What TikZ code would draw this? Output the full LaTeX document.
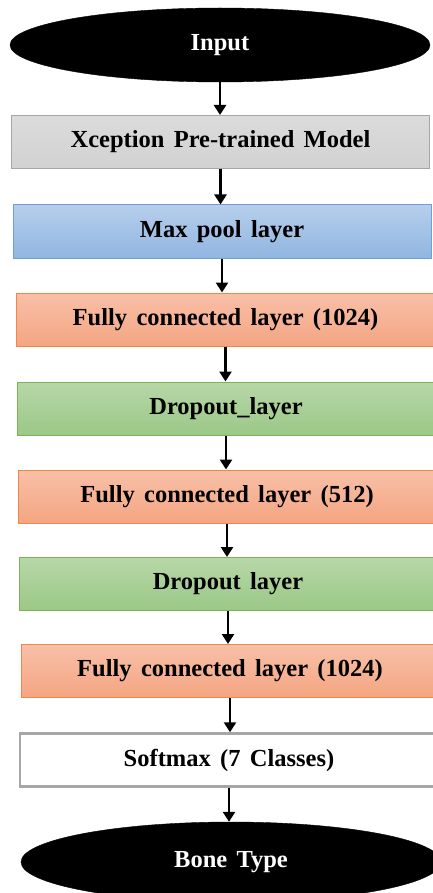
\documentclass[tikz,border=0pt]{standalone}
\usepackage{fontspec}
\setmainfont{Liberation Serif}
\usetikzlibrary{arrows.meta}
\usetikzlibrary{shapes.geometric}

\definecolor{greyfill}{RGB}{210,210,210}
\definecolor{greyline}{RGB}{166,166,166}
\definecolor{bluetop}{RGB}{182,206,235}
\definecolor{bluebot}{RGB}{145,182,225}
\definecolor{blueline}{RGB}{110,160,215}
\definecolor{orangetop}{RGB}{248,192,168}
\definecolor{orangebot}{RGB}{244,165,130}
\definecolor{orangeline}{RGB}{240,135,70}
\definecolor{greentop}{RGB}{183,215,168}
\definecolor{greenbot}{RGB}{155,200,135}
\definecolor{greenline}{RGB}{120,180,85}

% bold label font, a little wider word gaps
\newcommand{\layerfont}{\fontsize{24.5}{29}\selectfont\bfseries\spaceskip=0.38em plus 0.1em\relax}

\tikzset{
  layerbox/.style={rectangle, line width=1pt, minimum width=418pt, minimum height=53pt, inner sep=0pt,
    font=\layerfont},
  greybox/.style={layerbox, draw=greyline, top color=greyfill!80!white, bottom color=greyfill},
  bluebox/.style={layerbox, draw=blueline, top color=bluetop, bottom color=bluebot},
  orangebox/.style={layerbox, draw=orangeline, top color=orangetop, bottom color=orangebot},
  greenbox/.style={layerbox, draw=greenline, top color=greentop, bottom color=greenbot},
  whitebox/.style={layerbox, draw=greyline, line width=2.5pt, fill=white},
  terminal/.style={ellipse, draw=black, fill=black, minimum width=420pt, minimum height=74pt, inner sep=0pt,
    text=white, font=\layerfont},
  flow/.style={-{Triangle[width=12pt,length=10pt]}, line width=2.6pt},
}

\begin{document}
\begin{tikzpicture}[x=1pt,y=-1pt]
\useasboundingbox (0,0) rectangle (433,893);

%Shape: Ellipse
\node (input) [terminal] at (220,45) {Input};
%Shape: Rectangle
\node (xcep) [greybox] at (220.5,142) {Xception Pre-trained Model};
\node (pool) [bluebox] at (222,231.5) {Max pool layer};
\node (fca) [orangebox] at (225.5,319.5) {Fully connected layer (1024)};
\node (dropa) [greenbox] at (226,408.5) {Dropout\_layer};
\node (fcb) [orangebox] at (227,496.5) {Fully connected layer (512)};
\node (dropb) [greenbox] at (228,584) {Dropout layer};
\node (fcc) [orangebox] at (230,671) {Fully connected layer (1024)};
\node (soft) [whitebox] at (229,760) {Softmax (7 Classes)};
%Shape: Ellipse
\node (bone) [terminal, minimum height=80pt] at (231,862) {Bone Type};

%Straight Lines
\draw [flow] (input.south) -- (input.south |- xcep.north);
\draw [flow] (xcep.south) -- (xcep.south |- pool.north);
\draw [flow] (pool.south) -- (pool.south |- fca.north);
\draw [flow] (fca.south) -- (fca.south |- dropa.north);
\draw [flow] (dropa.south) -- (dropa.south |- fcb.north);
\draw [flow] (fcb.south) -- (fcb.south |- dropb.north);
\draw [flow] (dropb.south) -- (dropb.south |- fcc.north);
\draw [flow] (fcc.south) -- (fcc.south |- soft.north);
\draw [flow] (soft.south) -- (soft.south |- bone.north);

\end{tikzpicture}
\end{document}
